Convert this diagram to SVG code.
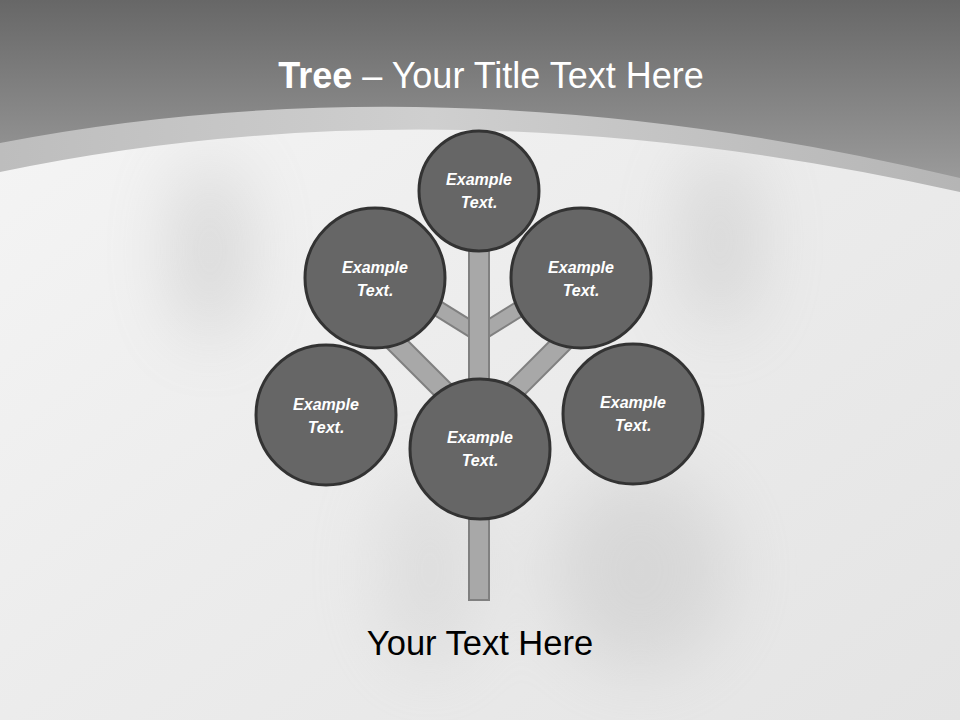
<svg xmlns="http://www.w3.org/2000/svg" width="960" height="720" viewBox="0 0 960 720">
<defs>
<linearGradient id="bg" x1="0" y1="0" x2="1" y2="1">
<stop offset="0" stop-color="#f6f6f6"/>
<stop offset="0.5" stop-color="#ececec"/>
<stop offset="1" stop-color="#e4e4e4"/>
</linearGradient>
<linearGradient id="top" x1="0" y1="0" x2="0" y2="1">
<stop offset="0" stop-color="#676767"/>
<stop offset="1" stop-color="#9a9a9a"/>
</linearGradient>
<linearGradient id="band" x1="0" y1="0" x2="1" y2="0">
<stop offset="0" stop-color="#bdbdbd"/>
<stop offset="0.45" stop-color="#cfcfcf"/>
<stop offset="1" stop-color="#b5b5b5"/>
</linearGradient>
<filter id="blur" x="-50%" y="-50%" width="200%" height="200%"><feGaussianBlur stdDeviation="35"/></filter>
<style>
.node circle{fill:#666666;stroke:#333333;stroke-width:3}
.node text{fill:#ffffff;font-family:"Liberation Sans",Arial,sans-serif;font-weight:bold;font-style:italic;font-size:16px;text-anchor:middle}
.br{stroke:#808080;stroke-linecap:butt}
.bri{stroke:#a8a8a8;stroke-linecap:butt}
</style>
</defs>
<rect width="960" height="720" fill="url(#bg)"/>
<g filter="url(#blur)" opacity="0.3">
<ellipse cx="210" cy="250" rx="35" ry="90" fill="#9a9a9a"/>
<ellipse cx="720" cy="240" rx="35" ry="90" fill="#a0a0a0"/>
<ellipse cx="640" cy="570" rx="90" ry="100" fill="#b0b0b0"/>
<ellipse cx="430" cy="570" rx="50" ry="100" fill="#c0c0c0"/>
</g>
<path d="M0,0 H960 V192 Q450,78 0,172 Z" fill="url(#band)"/>
<path d="M0,0 H960 V178 Q450,56 0,143 Z" fill="url(#top)"/>
<text x="491" y="88" font-family="'Liberation Sans',Arial,sans-serif" font-size="36" fill="#ffffff" text-anchor="middle"><tspan font-weight="bold">Tree</tspan> – Your Title Text Here</text>
<g id="connectors">
<line class="br" x1="479" y1="426" x2="380" y2="327" stroke-width="22"/>
<line class="bri" x1="479" y1="426" x2="380" y2="327" stroke-width="18"/>
<line class="br" x1="479" y1="426" x2="578" y2="327" stroke-width="22"/>
<line class="bri" x1="479" y1="426" x2="578" y2="327" stroke-width="18"/>
<line class="br" x1="479" y1="334" x2="405" y2="288" stroke-width="17"/>
<line class="bri" x1="479" y1="334" x2="405" y2="288" stroke-width="13"/>
<line class="br" x1="479" y1="334" x2="553" y2="288" stroke-width="17"/>
<line class="bri" x1="479" y1="334" x2="553" y2="288" stroke-width="13"/>
<rect x="469" y="240" width="20" height="360" fill="#a8a8a8" stroke="#808080" stroke-width="2"/>
</g>
<g id="node-top" class="node"><circle cx="479" cy="191" r="60"/><text x="479" y="185">Example</text><text x="479" y="208">Text.</text></g>
<g id="node-upper-left" class="node"><circle cx="375" cy="278" r="70"/><text x="375" y="273">Example</text><text x="375" y="296">Text.</text></g>
<g id="node-upper-right" class="node"><circle cx="581" cy="278" r="70"/><text x="581" y="273">Example</text><text x="581" y="296">Text.</text></g>
<g id="node-lower-left" class="node"><circle cx="326" cy="415" r="70"/><text x="326" y="410">Example</text><text x="326" y="433">Text.</text></g>
<g id="node-center" class="node"><circle cx="480" cy="449" r="70"/><text x="480" y="443">Example</text><text x="480" y="466">Text.</text></g>
<g id="node-right" class="node"><circle cx="633" cy="414" r="70"/><text x="633" y="408">Example</text><text x="633" y="431">Text.</text></g>
<text x="480" y="655" font-family="'Liberation Sans',Arial,sans-serif" font-size="34.5" fill="#000000" text-anchor="middle">Your Text Here</text>
</svg>
